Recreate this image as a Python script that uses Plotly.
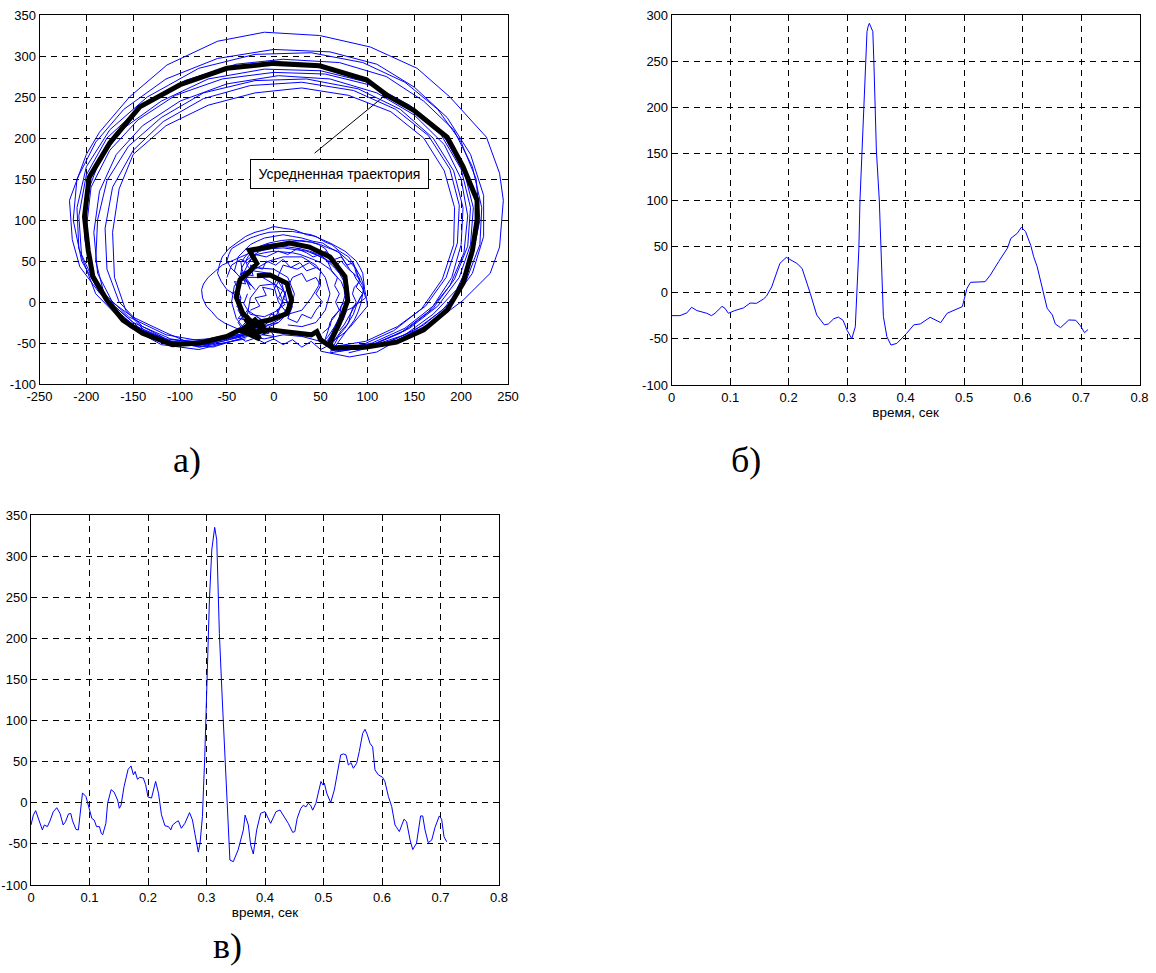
import plotly.graph_objects as go

W, H = 1156, 973

# ---------------- panel а) : vectorcardiographic loops ----------------
avg_main = [(-20,-35),(-36,-34),(-50,-42),(-79,-50),(-108,-52),(-140,-38),(-161,-22),(-178,2),(-193,31),(-198,63),
            (-202,104),(-200,124),(-197,152),(-175,194),(-143,238),(-100,265),(-50,285),(0,291),(49,288),(99,271),
            (121,252),(149,234),(185,201),(202,165),(217,124),(217,100),(212,63),(202,23),(185,-10),(160,-34),
            (131,-49),(99,-55),(63,-56),(60,-50),(70,-26),(79,2),(76,31),(60,55),(38,67),(17,72),(-4,67),(-26,63),
            (-18,47),(-26,37),(-36,27),(-40,6),(-33,-14),(-22,-26),(-4,-22),(14,-14),(19,2),(14,23),(-4,33),(-18,32)]
avg_bottom = [(-26,-38),(-4,-34),(10,-36),(28,-38),(40,-40),(46,-36),(50,-46),(63,-56)]
avg_blob = [(-30,-20),(-20,-40),(-10,-30),(-25,-28),(-15,-45),(-35,-35),(-20,-22),(-8,-38)]

beat_a = [(-30,-45),(-79,-55),(-114,-38),(-151,-18),(-186,11),(-207,43),(-215,76),(-218,124),(-200,180),(-186,207),
          (-154,250),(-114,289),(-60,318),(-10,329),(49,325),(103,311),(153,285),(188,250),(227,201),(241,157),
          (245,124),(241,67),(231,35),(202,2),(174,-22),(138,-43),(110,-61),(81,-67),(50,-60)]
beat_b = [(-25,-40),(-70,-52),(-110,-45),(-150,-25),(-185,10),(-205,50),(-214,100),(-210,150),(-190,195),(-160,235),
          (-115,272),(-60,297),(0,308),(60,305),(110,290),(150,262),(185,225),(210,180),(224,130),(224,80),
          (212,35),(190,0),(160,-28),(125,-48),(90,-58),(60,-55)]
beat_c = [(-30,-38),(-75,-48),(-115,-40),(-155,-18),(-190,20),(-208,65),(-210,115),(-200,165),(-175,210),(-135,250),
          (-80,285),(-20,302),(40,304),(95,292),(140,268),(175,235),(200,195),(216,150),(220,100),(212,55),
          (195,15),(170,-15),(140,-40),(100,-55),(70,-60)]
beat_d = [(-35,-42),(-80,-55),(-120,-45),(-160,-25),(-190,10),(-205,55),(-208,105),(-200,155),(-178,200),(-140,240),
          (-95,270),(-40,290),(10,296),(70,292),(120,275),(160,245),(192,210),(212,165),(222,115),(220,70),
          (205,25),(180,-10),(150,-35),(115,-52),(80,-62)]
beat_e = [(-32,-36),(-70,-45),(-110,-48),(-145,-32),(-175,-5),(-195,35),(-202,80),(-200,130),(-185,175),(-160,212),
          (-120,245),(-70,272),(-10,284),(50,282),(100,268),(145,240),(180,205),(203,160),(213,115),(210,70),
          (198,30),(175,-5),(145,-32),(110,-50),(70,-58)]
beat_f = [(-30,-40),(-75,-50),(-115,-45),(-150,-28),(-178,0),(-195,40),(-200,90),(-195,140),(-175,185),(-145,222),
          (-105,252),(-55,272),(0,280),(55,278),(105,264),(145,238),(178,205),(200,162),(210,115),(207,68),
          (193,28),(170,-8),(140,-35),(105,-52),(65,-60)]
beat_g = [(-28,-42),(-65,-55),(-105,-50),(-140,-35),(-170,-5),(-188,35),(-192,85),(-186,135),(-168,180),(-140,215),
          (-100,245),(-50,266),(5,276),(60,272),(110,255),(150,228),(182,192),(200,150),(207,105),(203,60),
          (188,20),(165,-12),(135,-38),(100,-55),(60,-62)]
beat_h = [(-35,-45),(-80,-58),(-120,-52),(-155,-30),(-180,5),(-190,50),(-188,100),(-178,148),(-155,190),(-120,225),
          (-75,255),(-20,270),(35,272),(90,260),(135,235),(170,200),(192,160),(202,115),(200,70),(190,30),
          (170,-5),(140,-32),(105,-50),(70,-58)]
beat_i = [(-30,-40),(-70,-50),(-110,-48),(-140,-30),(-165,0),(-178,40),(-180,90),(-172,140),(-150,185),(-118,220),
          (-75,248),(-25,264),(30,268),(85,258),(130,235),(165,203),(188,162),(198,118),(196,72),(184,30),
          (162,-5),(132,-30),(98,-48),(60,-55)]
beat_j = [(-32,-38),(-72,-52),(-108,-50),(-138,-35),(-158,-10),(-170,30),(-172,85),(-165,138),(-150,180),(-115,215),
          (-70,240),(-20,255),(30,261),(80,252),(125,232),(160,200),(182,160),(193,115),(192,70),(180,28),
          (158,-8),(128,-35),(95,-52),(60,-60)]

t_loop1 = [(60,-55),(66,-45),(72,-35),(78,-28),(85,-15),(88,-5),(92,5),(96,12),(95,20),(90,30),(88,40),(84,48),
           (80,55),(70,62),(62,70),(55,73),(45,80),(35,82),(22,88),(10,90),(0,92),(-10,88),(-20,85),(-30,80),
           (-40,72),(-48,65),(-55,55),(-58,45),(-60,35),(-56,25),(-50,15),(-42,10),(-35,5)]
t_loop2 = [(55,-50),(62,-40),(68,-30),(74,-22),(78,-10),(86,-6),(88,0),(84,10),(86,18),(92,25),(90,30),(82,38),
           (78,45),(74,52),(70,60),(60,66),(52,72),(42,74),(30,78),(20,80),(10,82),(0,80),(-10,78),(-18,74),
           (-25,70),(-32,62),(-38,55),(-40,46),(-42,38),(-36,30),(-30,25)]
t_loop3 = [(62,-58),(66,-48),(70,-40),(76,-32),(80,-25),(82,-15),(85,-5),(92,0),(98,5),(96,14),(92,22),(88,28),
           (85,35),(78,42),(72,50),(68,46),(65,48),(60,56),(55,65),(48,70),(40,73),(30,74),(18,76),(8,75),
           (-5,72),(-15,68),(-25,62),(-30,56),(-35,48),(-34,40),(-30,30),(-25,22),(-20,15)]
t_loop4 = [(50,-52),(58,-42),(65,-30),(70,-20),(75,-8),(78,2),(78,15),(75,25),(70,35),(63,44),(55,52),(45,58),
           (35,62),(22,64),(10,66),(-2,65),(-15,62),(-25,60),(-35,55),(-45,50),(-55,45),(-62,38),(-70,30),
           (-75,22),(-77,15),(-76,5),(-72,-5),(-66,-12),(-60,-20),(-52,-26),(-45,-30),(-38,-33),(-30,-35)]
t_loop5 = [(58,-48),(62,-38),(66,-28),(70,-18),(72,-5),(77,2),(80,10),(79,20),(76,30),(70,38),(65,45),(56,52),
           (48,58),(38,62),(28,65),(16,67),(5,68),(-5,66),(-15,62),(-23,56),(-30,50),(-34,42),(-35,35),(-30,26),(-25,20)]
t_loop6 = [(65,-55),(72,-44),(80,-32),(86,-22),(90,-12),(93,-2),(95,10),(96,20),(93,30),(88,40),(82,48),(75,55),
           (68,62),(58,66),(50,70),(40,73),(30,75),(20,74),(12,72),(2,71),(-8,70),(-15,66),(-22,62),(-27,56),
           (-30,50),(-28,44),(-25,40)]
t_loop7 = [(55,-45),(58,-35),(60,-25),(65,-18),(70,-10),(74,0),(76,8),(75,16),(72,25),(66,32),(60,40),(55,44),
           (50,48),(42,52),(35,55),(28,58),(20,60),(10,61),(0,62),(-10,60),(-18,58),(-24,52),(-28,45),(-31,38),
           (-32,30),(-27,24),(-22,18)]
t_loop8 = [(60,-50),(68,-44),(75,-38),(82,-30),(88,-22),(94,-14),(100,-5),(99,5),(97,15),(96,25),(95,35),(92,42),
           (88,50),(82,56),(76,62),(68,67),(60,72),(50,77),(40,82),(30,84),(20,86),(8,86),(-5,85),(-15,82),
           (-25,78),(-35,72),(-45,65),(-48,58),(-50,50),(-46,42),(-40,35)]

p_loop1 = [(-35,5),(-40,20),(-35,35),(-20,42),(0,40),(15,30),(22,10),(18,-10),(5,-25),(-15,-30),(-30,-25),(-38,-10),(-35,5)]
p_loop2 = [(-25,15),(-30,28),(-22,38),(-5,35),(8,25),(12,8),(5,-10),(-10,-18),(-25,-15),(-32,-2),(-28,10)]
p_loop3 = [(-30,-35),(-40,-20),(-45,0),(-42,20),(-30,30),(-12,30),(3,20),(10,0),(2,-18),(-12,-30),(-28,-38),(-40,-42)]
p_loop4 = [(-20,-30),(-28,-15),(-25,5),(-15,20),(0,22),(12,12),(15,-5),(8,-20),(-5,-28),(-18,-35),(-25,-42),
           (-10,-45),(10,-40),(30,-42),(50,-48)]
p_loop5 = [(-35,-20),(-25,-25),(-30,-32),(-18,-28),(-25,-38),(-12,-35),(-20,-42),(-5,-38),(-15,-20),(-28,-10),
           (-38,-25),(-30,-40)]
p_loop6 = [(-20,40),(-5,50),(10,55),(30,55),(45,45),(55,30),(60,10),(55,-10),(45,-25),(30,-30),(15,-28)]
p_loop7 = [(10,45),(25,40),(38,48),(50,38),(48,20),(40,5),(30,-10),(15,-15),(5,0),(0,20),(10,45)]
p_loop8 = [(-40,-5),(-32,-12),(-38,-20),(-28,-22),(-34,-30),(-22,-32),(-28,-40),(-15,-38),(-20,-28),(-8,-30),
           (-12,-40),(0,-42),(-5,-30),(5,-25)]
p_loop9 = [(-45,10),(-38,15),(-42,25),(-30,22),(-35,35),(-22,32),(-25,45),(-12,40),(-8,50),(2,45),(10,52),
           (18,42),(28,48),(35,38),(45,42)]
p_loop10 = [(-50,30),(-45,45),(-35,52),(-28,48),(-20,58),(-8,55),(5,62),(15,58),(25,65),(35,60),(42,55),(50,58),
            (58,48),(62,38),(68,30),(65,20),(70,10),(66,0),(70,-10),(62,-20),(60,-30),(52,-38)]
p_loop11 = [(20,30),(30,35),(35,25),(45,30),(50,20),(45,10),(52,0),(45,-10),(40,-20),(30,-15),(25,-25),(15,-20),
            (20,-5),(10,5),(15,18),(20,30)]
p_loop12 = [(-40,-40),(-30,-48),(-20,-44),(-10,-50),(0,-45),(10,-52),(20,-46),(30,-55),(40,-48),(50,-58),(60,-52)]
p_loop13 = [(-25,-10),(-15,-5),(-20,5),(-8,8),(-12,18),(0,15),(5,25),(10,15),(5,5),(12,-3),(3,-10),(8,-18),
            (-3,-15),(-8,-25),(-18,-18)]
p_loop14 = [(40,60),(50,55),(55,62),(65,52),(72,55),(78,45),(85,48),(88,35),(92,28),(88,18),(95,10),(90,0),
            (85,-8),(80,-18),(75,-28),(70,-35)]

blue_paths = [beat_a, beat_b, beat_c, beat_d, beat_e, beat_f, beat_g, beat_h, beat_i, beat_j,
              t_loop1, t_loop2, t_loop3, t_loop4, t_loop5, t_loop6, t_loop7, t_loop8,
              p_loop1, p_loop2, p_loop3, p_loop4, p_loop5, p_loop6, p_loop7, p_loop8, p_loop9,
              p_loop10, p_loop11, p_loop12, p_loop13, p_loop14]
black_paths = [avg_main, avg_bottom, avg_blob]

# ---------------- panel б) : averaged signal ----------------
t_b = [0, 0.014, 0.026, 0.034, 0.043, 0.052, 0.060, 0.068, 0.074, 0.086, 0.091, 0.097, 0.108, 0.123, 0.134, 0.145,
       0.157, 0.162, 0.171, 0.185, 0.196, 0.202, 0.214, 0.223, 0.231, 0.237, 0.248, 0.261, 0.268, 0.277, 0.285,
       0.293, 0.300, 0.308, 0.314, 0.320, 0.322, 0.328, 0.334, 0.336, 0.338, 0.340, 0.344, 0.346, 0.350, 0.355,
       0.362, 0.368, 0.375, 0.385, 0.402, 0.414, 0.425, 0.442, 0.460, 0.471, 0.491, 0.497, 0.505, 0.511, 0.536,
       0.545, 0.559, 0.574, 0.580, 0.591, 0.598, 0.605, 0.614, 0.619, 0.625, 0.634, 0.642, 0.651, 0.656, 0.665,
       0.670, 0.679, 0.691, 0.699, 0.706, 0.712]
v_b = [-25, -25, -22, -16, -19.5, -21, -22.5, -25, -22.5, -15, -17, -22.5, -19.5, -16.6, -11.4, -11.7,
       -7, -4, 6, 31.5, 38, 35.8, 31.5, 26, 11.7, -1, -24.3, -35, -34, -28.4, -26.6,
       -30, -40.9, -49.9, -37, 45.9, 100, 197, 282, 288, 291, 288, 282, 244, 154, 100,
       -26, -47.8, -56.8, -55, -44, -35, -34, -26.8, -32.6, -22.5, -17.1, -15.3, 4.5, 11, 11.7,
       18.9, 33.3, 47.8, 58.6, 64, 70.5, 66, 51, 38.7, 28, 2.7, -17, -24.3, -34, -38,
       -35, -29.7, -30, -36, -43.4, -40]

# ---------------- panel в) : single noisy signal ----------------
t_c = [0, 0.004, 0.008, 0.0115, 0.015, 0.0194, 0.0228, 0.028, 0.0325, 0.038, 0.044, 0.0496, 0.055, 0.059, 0.064,
       0.068, 0.071, 0.077, 0.081, 0.0838, 0.088, 0.094, 0.098, 0.104, 0.108, 0.112, 0.117, 0.12, 0.1225, 0.128,
       0.131, 0.137, 0.142, 0.148, 0.151, 0.154, 0.159, 0.166, 0.171, 0.175, 0.178, 0.182, 0.186, 0.192, 0.196,
       0.2, 0.206, 0.213, 0.218, 0.223, 0.229, 0.235, 0.239, 0.242, 0.249, 0.252, 0.257, 0.263, 0.271, 0.276,
       0.28, 0.286, 0.289, 0.293, 0.297, 0.3, 0.302, 0.305, 0.309, 0.314, 0.3175, 0.322, 0.327, 0.329, 0.3345,
       0.340, 0.3458, 0.354, 0.363, 0.366, 0.3715, 0.3755, 0.380, 0.3858, 0.3926, 0.4, 0.4097, 0.4188, 0.4256,
       0.434, 0.4398, 0.4473, 0.451, 0.455, 0.461, 0.4655, 0.470, 0.474, 0.478, 0.4815, 0.487, 0.491, 0.4957,
       0.4986, 0.5014, 0.5055, 0.5123, 0.5185, 0.5236, 0.5294, 0.534, 0.5385, 0.5425, 0.547, 0.551, 0.5567,
       0.5612, 0.567, 0.571, 0.575, 0.5795, 0.584, 0.588, 0.5937, 0.601, 0.605, 0.611, 0.6166, 0.6222, 0.6296,
       0.6376, 0.642, 0.648, 0.6525, 0.659, 0.666, 0.6696, 0.6735, 0.679, 0.685, 0.6906, 0.698, 0.702, 0.706, 0.7106]
v_c = [-27, -15, -9.6, -17, -23, -33, -27, -29, -22, -11, -6, -13, -27, -23, -13.6,
       -13, -22, -32.5, -33, -13, 12, 7.5, -2.8, -19, -21, -29, -29, -37, -39, -25,
       -0.4, 16, 13, 3.4, -6.7, -2.7, 19.6, 40.7, 44.8, 34, 38, 28.6, 31, 30, 22,
       7, 5.7, 26, 11.6, -14.6, -28, -29, -33, -27, -23, -22, -31, -25, -12, -21,
       -37, -60, -49, -17, 56, 137, 185, 246.7, 307.5, 335, 319.7, 206, 125, 96.7, 15.6,
       -69.6, -71.6, -57.4, -33, -15, -27, -51.4, -62.3, -33, -12.8, -10.8, -25, -10.8, -8.8,
       -19, -25, -36, -35, -19, -7, -3, -5, -0.6, -3, -9, -0.6, 11.7, 25.9,
       21.9, 24, 11.7, 0.2, 15.6, 35.9, 58.2, 59.4, 58.2, 46, 48.8, 42, 48,
       62.5, 84.5, 89.4, 82.6, 72.3, 68, 40, 34, 31, 25.7, 7.5, -4.7, -27, -35,
       -20, -23, -45.3, -56.9, -49.3, -16, -16, -33, -48.5, -45.3, -30, -16, -20, -41.3, -47.4]

# tick values / labels
xa_ticks = [-250, -200, -150, -100, -50, 0, 50, 100, 150, 200, 250]
ya_ticks = [-100, -50, 0, 50, 100, 150, 200, 250, 300, 350]
yb_ticks = [-100, -50, 0, 50, 100, 150, 200, 250, 300]
t_ticks = [0, 0.1, 0.2, 0.3, 0.4, 0.5, 0.6, 0.7, 0.8]
t_labels = ["0", "0.1", "0.2", "0.3", "0.4", "0.5", "0.6", "0.7", "0.8"]

fig = go.Figure()

for p in blue_paths:
    fig.add_trace(go.Scatter(x=[q[0] for q in p], y=[q[1] for q in p], mode="lines",
                             line=dict(color="#0000ff", width=1), xaxis="x", yaxis="y",
                             showlegend=False, hoverinfo="skip"))
for p in black_paths:
    fig.add_trace(go.Scatter(x=[q[0] for q in p], y=[q[1] for q in p], mode="lines",
                             line=dict(color="black", width=5), xaxis="x", yaxis="y",
                             showlegend=False, hoverinfo="skip"))

fig.add_trace(go.Scatter(x=t_b, y=v_b, mode="lines", line=dict(color="#0000ff", width=1),
                         xaxis="x2", yaxis="y2", showlegend=False))
fig.add_trace(go.Scatter(x=t_c, y=v_c, mode="lines", line=dict(color="#0000ff", width=1),
                         xaxis="x3", yaxis="y3", showlegend=False))

tickfont = dict(family="Liberation Sans, Arial, sans-serif", size=13, color="black")
def ax(domain, rng, vals, texts, anchor):
    return dict(domain=domain, range=rng, tickvals=vals, ticktext=texts, anchor=anchor,
                showline=True, linecolor="black", linewidth=1, mirror="ticks",
                ticks="inside", ticklen=4, tickcolor="black", tickwidth=1,
                showgrid=True, gridcolor="black", gridwidth=1, griddash="6px,5px",
                zeroline=False, tickfont=tickfont, fixedrange=True, automargin=False,
                ticklabeloverflow="allow")

def px_x(a, b):
    return [a / W, b / W]

def px_y(top, bottom):
    return [1 - bottom / H, 1 - top / H]

fig.update_layout(
    width=W, height=H, margin=dict(l=0, r=0, t=0, b=0, autoexpand=False),
    paper_bgcolor="white", plot_bgcolor="white", showlegend=False,
    xaxis=ax(px_x(39.5, 508), [-250, 250], xa_ticks, [str(v) for v in xa_ticks], "y"),
    yaxis=ax(px_y(15, 384), [-100, 350], ya_ticks, [str(v) for v in ya_ticks], "x"),
    xaxis2=ax(px_x(671.7, 1139.5), [0, 0.8], t_ticks, t_labels, "y2"),
    yaxis2=ax(px_y(15, 385), [-100, 300], yb_ticks, [str(v) for v in yb_ticks], "x2"),
    xaxis3=ax(px_x(31, 499), [0, 0.8], t_ticks, t_labels, "y3"),
    yaxis3=ax(px_y(515, 885), [-100, 350], ya_ticks, [str(v) for v in ya_ticks], "x3"),
)
label_font = dict(family="Liberation Sans, Arial", size=13.5, color="black")
fig.layout.xaxis2.title = dict(text="время, сек", font=label_font, standoff=2)
fig.layout.xaxis3.title = dict(text="время, сек", font=label_font, standoff=2)

serif = dict(family="Liberation Serif, Times New Roman, serif", size=36, color="black")
fig.add_annotation(text="а)", xref="paper", yref="paper", x=187 / W, y=1 - 460 / H, showarrow=False,
                   font=serif, xanchor="center", yanchor="middle")
fig.add_annotation(text="б)", xref="paper", yref="paper", x=746 / W, y=1 - 460 / H, showarrow=False,
                   font=serif, xanchor="center", yanchor="middle")
fig.add_annotation(text="в)", xref="paper", yref="paper", x=227 / W, y=1 - 946 / H, showarrow=False,
                   font=serif, xanchor="center", yanchor="middle")

# annotation box and arrow in panel а)
fig.add_annotation(text="Усредненная траектория", xref="x", yref="y", x=70, y=156, showarrow=False,
                   font=dict(family="Liberation Sans, Arial", size=14, color="black"),
                   width=169, height=20, align="center",
                   bordercolor="black", borderwidth=1, borderpad=4, bgcolor="white")
fig.add_annotation(text="", xref="x", yref="y", x=121, y=254, axref="x", ayref="y", ax=42, ay=180,
                   showarrow=True, arrowhead=2, arrowsize=1, arrowwidth=1, arrowcolor="black")

fig.write_html("out.html", config={"displayModeBar": False},
               post_script="document.body.style.margin='0';document.body.style.padding='0';"
                           "document.body.style.overflow='hidden';")
